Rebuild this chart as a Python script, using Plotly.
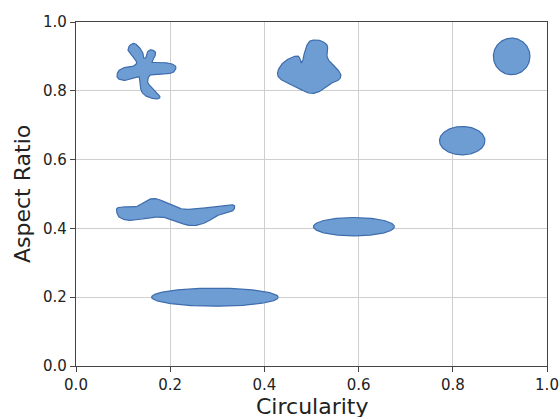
import numpy as np
import plotly.graph_objects as go

# ---- data: each shape placed at its (circularity, aspect ratio) ----
shape_names = ["star", "lobed", "wavy", "ellipse_wide", "ellipse_mid", "ellipse_small", "circle"]
circularity = [0.15, 0.50, 0.20, 0.295, 0.59, 0.82, 0.925]
aspect_ratio = [0.85, 0.87, 0.45, 0.20, 0.405, 0.655, 0.90]
x_ticks = [0.0, 0.2, 0.4, 0.6, 0.8, 1.0]
y_ticks = [0.0, 0.2, 0.4, 0.6, 0.8, 1.0]
x_title = "Circularity"
y_title = "Aspect Ratio"

# ---- layout geometry ----
W, H = 560, 417
ML, MR, MT, MB = 76, 13, 22, 51
PW, PH = W - ML - MR, H - MT - MB  # plot area in px

FILL = "#6d9dd3"
EDGE = "#3e6cad"
TXT = "#222222"

# glyph outlines in screen pixels (dx right, dy down) relative to the shape centre
glyph_outlines = {
    "star": ([-15.5, -10.5, -4.0, -3.4, -0.7, 0.6, 4.0, 8.3, 7.3, 5.0, 10.0, 21.6, 27.5, 24.5, 13.3, 3.3,
              1.0, 5.5, 10.0, 12.6, 8.3, 0.0, -5.0, -6.0, -6.7, -11.7, -20.0, -27.5, -26.5, -20.0, -13.4,
              -9.4, -13.0, -17.5],
             [-25.0, -26.0, -18.5, -13.2, -13.2, -18.2, -20.5, -18.2, -13.2, -8.8, -8.5, -7.8, -4.5, 1.0,
              2.5, 3.5, 10.2, 15.5, 20.2, 24.5, 25.8, 23.5, 18.5, 10.2, 5.2, 6.0, 8.5, 6.0, -0.5, -4.0,
              -4.8, -8.2, -14.0, -19.5], 1.06, -2.1),
    "lobed": ([-1.5, 5.2, 11.5, 16.0, 15.2, 17.5, 23.5, 29.2, 27.5, 21.5, 12.0, 3.0, -5.0, -15.5, -24.8,
               -32.5, -33.8, -29.8, -23.5, -16.5, -12.5, -10.5, -8.5, -7.5, -5.2],
              [-25.7, -26.7, -25.0, -20.5, -12.0, -6.0, 0.0, 7.5, 13.0, 15.5, 22.5, 26.5, 25.5, 20.0, 16.0,
               11.0, 5.0, -2.3, -7.5, -10.5, -10.0, -4.0, -7.0, -12.0, -20.0], 1.0, 0.0),
    "wavy": ([-53.5, -46.9, -35.2, -28.5, -23.5, -18.5, -11.9, -1.9, 8.1, 16.5, 26.5, 36.5, 46.5, 54.8,
              63.8, 63.1, 56.5, 46.5, 36.5, 26.5, 18.1, 9.8, -0.2, -10.2, -20.2, -30.2, -40.2, -46.9, -51.9],
             [-2.5, -4.2, -4.2, -7.5, -10.9, -12.5, -11.9, -7.5, -3.2, -1.9, -2.5, -3.5, -5.2, -5.9, -5.9,
              -0.9, 0.8, 4.8, 10.8, 14.1, 14.1, 11.5, 7.5, 5.8, 6.5, 8.1, 9.1, 8.1, 4.8], 1.0, 0.0),
}
# ellipse half-axes in screen pixels
ellipse_axes = {
    "ellipse_wide": (63.3, 9.0),
    "ellipse_mid": (40.5, 9.2),
    "ellipse_small": (22.7, 14.2),
    "circle": (18.3, 18.3),
}


def catmull_rom_closed(px, py, n=14):
    px = np.asarray(px, float)
    py = np.asarray(py, float)
    m = len(px)
    xs, ys = [], []
    for i in range(m):
        p0 = np.array([px[(i - 1) % m], py[(i - 1) % m]])
        p1 = np.array([px[i], py[i]])
        p2 = np.array([px[(i + 1) % m], py[(i + 1) % m]])
        p3 = np.array([px[(i + 2) % m], py[(i + 2) % m]])
        for t in np.linspace(0, 1, n, endpoint=False):
            t2, t3 = t * t, t * t * t
            pt = 0.5 * ((2 * p1) + (-p0 + p2) * t + (2 * p0 - 5 * p1 + 4 * p2 - p3) * t2
                        + (-p0 + 3 * p1 - 3 * p2 + p3) * t3)
            xs.append(pt[0])
            ys.append(pt[1])
    xs.append(xs[0])
    ys.append(ys[0])
    return np.array(xs), np.array(ys)


fig = go.Figure()
for name, cx, cy in zip(shape_names, circularity, aspect_ratio):
    if name in glyph_outlines:
        gx, gy, scale, yshift = glyph_outlines[name]
        dx, dy = catmull_rom_closed(gx, gy)
        dx = dx * scale
        dy = dy * scale + yshift
    else:
        a, b = ellipse_axes[name]
        t = np.linspace(0, 2 * np.pi, 181)
        dx, dy = a * np.cos(t), b * np.sin(t)
    xs = cx + dx / PW
    ys = cy - dy / PH
    fig.add_trace(go.Scatter(x=xs, y=ys, mode="lines", fill="toself", fillcolor=FILL,
                             line=dict(color=EDGE, width=1.2), hoverinfo="skip", showlegend=False))

axis_common = dict(range=[0, 1], tickmode="array", tickformat=".1f", showgrid=True,
                   gridcolor="#cfcfcf", gridwidth=1, zeroline=False, showline=True,
                   linecolor="#444444", linewidth=1.2, mirror=True, ticks="outside", ticklen=5,
                   tickcolor="#444444", tickwidth=1,
                   tickfont=dict(family="DejaVu Sans", size=15, color=TXT))

fig.update_xaxes(**axis_common, tickvals=x_ticks)
fig.update_yaxes(**axis_common, tickvals=y_ticks)

# axis titles
fig.add_annotation(text=x_title, xref="paper", yref="paper", x=0.5, y=0, xanchor="center",
                   yanchor="middle", yshift=-40, showarrow=False,
                   font=dict(family="DejaVu Sans", size=22, color=TXT))
fig.add_annotation(text=y_title, xref="paper", yref="paper", x=0, y=0.5, xanchor="center",
                   yanchor="middle", xshift=-54, textangle=-90, showarrow=False,
                   font=dict(family="DejaVu Sans", size=22, color=TXT))

fig.update_layout(width=W, height=H, margin=dict(l=ML, r=MR, t=MT, b=MB, autoexpand=False),
                  plot_bgcolor="white", paper_bgcolor="white")

fig.write_html("out.html", config={"displayModeBar": False},
               post_script="document.body.style.margin='0px';")
